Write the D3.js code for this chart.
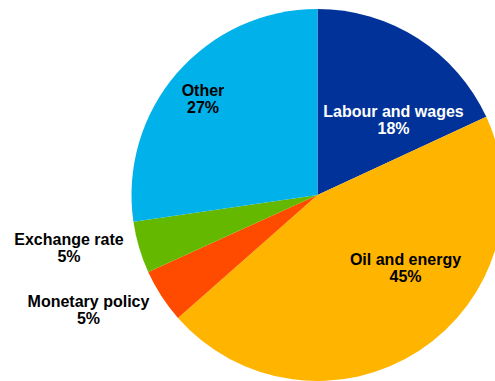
<!DOCTYPE html>
<html>
<head>
<meta charset="utf-8">
<script src="https://cdn.jsdelivr.net/npm/d3@7"></script>
<style>
  html, body { margin: 0; padding: 0; background: #fff; }
  svg { display: block; }
  text { font-family: "Liberation Sans", Arial, sans-serif; font-weight: bold; font-size: 16px; }
</style>
</head>
<body>
<svg id="chart" width="495" height="381"></svg>
<script>
const categories = ["Labour and wages", "Oil and energy", "Monetary policy", "Exchange rate", "Other"];
const values = [18.1, 45.4, 4.7, 4.5, 27.3];
const colors = ["#003299", "#FFB400", "#FF4B00", "#65B800", "#00B1EA"];
const textColors = ["#ffffff", "#000000", "#000000", "#000000", "#000000"];

// layout (label anchor points, px)
const layout = {
  cx: 317.5, cy: 195, r: 186,
  labels: [[393.5, 117], [405.5, 265], [88.5, 307], [69, 245], [203, 96]],
  lineHeight: 17
};

const svg = d3.select("#chart");
const pie = d3.pie().sort(null).value(d => d)(values);
const arc = d3.arc().innerRadius(0).outerRadius(layout.r);

const g = svg.append("g").attr("transform", `translate(${layout.cx},${layout.cy})`);
g.selectAll("path").data(pie).join("path")
  .attr("d", arc)
  .attr("fill", (d, i) => colors[i]);

const lg = svg.append("g");
categories.forEach((c, i) => {
  const [x, y] = layout.labels[i];
  const t = lg.append("text").attr("x", x).attr("y", y)
    .attr("text-anchor", "middle").attr("fill", textColors[i]);
  t.append("tspan").attr("x", x).text(c);
  t.append("tspan").attr("x", x).attr("dy", layout.lineHeight).text(Math.round(values[i]) + "%");
});
</script>
</body>
</html>
